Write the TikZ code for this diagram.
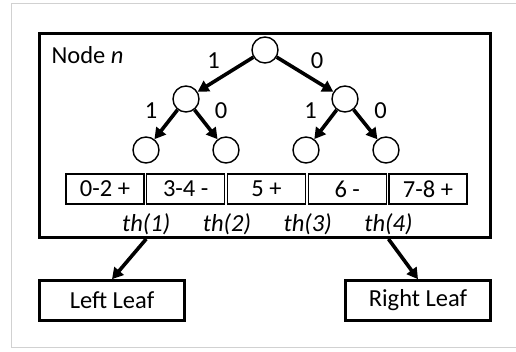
\documentclass[tikz,border=0pt]{standalone}
\usepackage{fontspec}
\setmainfont{Carlito}
\usetikzlibrary{positioning,arrows.meta}

\begin{document}
\begin{tikzpicture}[x=1pt, y=1pt, on grid, font=\fontsize{24.5}{29}\selectfont,
    nodo/.style={draw, circle, line width=1.4pt, minimum size=26pt, inner sep=0pt},
    celda/.style={draw, rectangle, line width=1.4pt, minimum width=78pt, minimum height=30pt, inner sep=0pt},
    hoja/.style={draw, rectangle, line width=2.6pt, minimum width=145pt, minimum height=40pt},
    flecha/.style={-{Triangle[length=11pt, width=12pt]}, line width=3.6pt},
    etq/.style={inner sep=4pt}]
    \useasboundingbox (0,0) rectangle (516,352);
    \draw[black!18, line width=1pt] (516,348) -- (11,348) -- (11,4) -- (516,4);

    % Caja del nodo
    \node (nodebox) [draw, rectangle, line width=3pt, minimum width=451pt, minimum height=204pt] at (265,216.5) {};
    \node (title) [anchor=west] at (48,297) {Node \textit{n}};

    % Arbol
    \node (root) [nodo] at (265,302) {};
    \node (n1) [nodo, below left=49pt and 79pt of root] {};
    \node (n2) [nodo, below right=49pt and 80pt of root] {};
    \node (n11) [nodo, below left=51pt and 40pt of n1] {};
    \node (n10) [nodo, below right=51pt and 40pt of n1] {};
    \node (n21) [nodo, below left=51pt and 39pt of n2] {};
    \node (n20) [nodo, below right=51pt and 41pt of n2] {};

    % Intervalos
    \node (b1) [celda] at (105,163) {0-2 +};
    \node (b2) [celda, right=80.75pt of b1] {3-4 -};
    \node (b3) [celda, right=80.75pt of b2] {5 +};
    \node (b4) [celda, right=80.75pt of b3] {6 -};
    \node (b5) [celda, right=80.75pt of b4] {7-8 +};

    % Umbrales
    \node (th1) at ([xshift=1.5pt, yshift=-35pt]b1.east) {\textit{th(1)}};
    \node (th2) at ([xshift=1.5pt, yshift=-35pt]b2.east) {\textit{th(2)}};
    \node (th3) at ([xshift=1.5pt, yshift=-35pt]b3.east) {\textit{th(3)}};
    \node (th4) at ([xshift=1.5pt, yshift=-35pt]b4.east) {\textit{th(4)}};

    % Hojas
    \node (leftleaf) [hoja] at (112,51.5) {Left Leaf};
    \node (rightleaf) [hoja] at (418,51.5) {Right Leaf};

    % Flechas de conexion
    \draw[flecha] (root) -- node[etq, above left] {1} (n1);
    \draw[flecha] (root) -- node[etq, above right] {0} (n2);
    \draw[flecha] (n1) -- node[etq, above left, xshift=-3pt] {1} (n11);
    \draw[flecha] (n1) -- node[etq, above right, xshift=3pt] {0} (n10);
    \draw[flecha] (n2) -- node[etq, above left, xshift=-3pt] {1} (n21);
    \draw[flecha] (n2) -- node[etq, above right, xshift=3pt] {0} (n20);
    \draw[flecha] (nodebox.south -| th1) -- (leftleaf.north);
    \draw[flecha] (nodebox.south -| th4) -- (rightleaf.north);
\end{tikzpicture}
\end{document}
